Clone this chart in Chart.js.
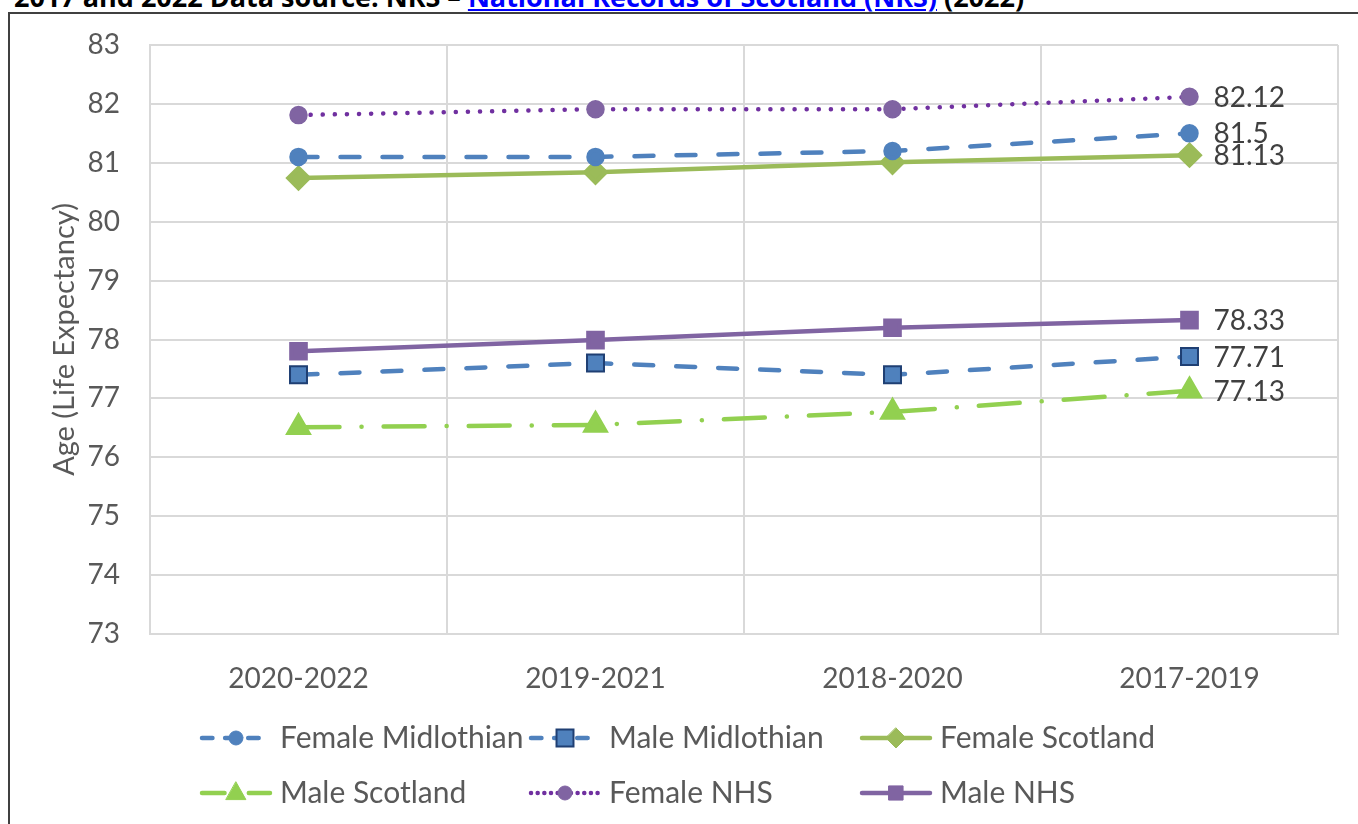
<!DOCTYPE html>
<html lang="en">
  <head>
    <meta charset="UTF-8" />
    <script src="https://cdn.jsdelivr.net/npm/chart.js@4.4.1/dist/chart.umd.min.js"></script>
    <title>Life Expectancy</title>
    <style>
      body { margin: 0; background: #fff; overflow: hidden; }
      #source {
        position: absolute; left: 14px; top: -22px; white-space: nowrap;
        font-family: "Open Sans", sans-serif; font-weight: bold; font-size: 27px; color: #000;
      }
      #source a { color: #0000ff; text-decoration: underline; }
      #frame {
        position: absolute; left: 8px; top: 12px; width: 1360px; height: 830px;
        border: 2px solid #404040; box-sizing: border-box;
      }
      #wrap { position: absolute; left: 9px; top: 14px; width: 1349px; height: 810px; }
    </style>
  </head>
  <body>
    <div id="source">2017 and 2022 Data source: NRS – <a href="#">National Records of Scotland (NRS)</a> (2022)</div>
    <div id="frame"></div>
    <div id="wrap"><canvas id="chart"></canvas></div>
    <script>
      const periods = ["2020-2022", "2019-2021", "2018-2020", "2017-2019"];
      const femaleMidlothian = [81.1, 81.1, 81.2, 81.5];
      const maleMidlothian = [77.4, 77.6, 77.4, 77.71];
      const femaleScotland = [80.74, 80.84, 81.01, 81.13];
      const maleScotland = [76.51, 76.55, 76.77, 77.13];
      const femaleNHS = [81.81, 81.91, 81.91, 82.12];
      const maleNHS = [77.8, 77.99, 78.2, 78.33];
      const yTicks = [73, 74, 75, 76, 77, 78, 79, 80, 81, 82, 83];

      const FONT = "Lato";
      const grey = "#595959";

      const datasets = [
        { label: "Female Midlothian", data: femaleMidlothian, borderColor: "#4F81BD", borderDash: [19, 23],
          pointStyle: "circle", pointRadius: 7, pointBackgroundColor: "#4F81BD", pointBorderColor: "#4F81BD" },
        { label: "Male Midlothian", data: maleMidlothian, borderColor: "#4F81BD", borderDash: [19, 23],
          pointStyle: "rect", pointRadius: 12, pointBackgroundColor: "#4F81BD", pointBorderColor: "#1F3F73", pointBorderWidth: 2 },
        { label: "Female Scotland", data: femaleScotland, borderColor: "#9BBB59", borderDash: [],
          pointStyle: "rectRot", pointRadius: 10, pointBackgroundColor: "#9BBB59", pointBorderColor: "#9BBB59" },
        { label: "Male Scotland", data: maleScotland, borderColor: "#92D050", borderDash: [41, 22, 0.1, 22],
          pointStyle: "triangle", pointRadius: 11, pointBackgroundColor: "#92D050", pointBorderColor: "#92D050" },
        { label: "Female NHS", data: femaleNHS, borderColor: "#7030A0", borderDash: [0.1, 12],
          pointStyle: "circle", pointRadius: 7, pointBackgroundColor: "#8064A2", pointBorderColor: "#8064A2" },
        { label: "Male NHS", data: maleNHS, borderColor: "#8064A2", borderDash: [],
          pointStyle: "rect", pointRadius: 10, pointBackgroundColor: "#8064A2", pointBorderColor: "#8064A2" }
      ];
      datasets.forEach(d => {
        d.borderWidth = 4.5;
        d.borderCapStyle = "round";
        d.tension = 0;
        d.fill = false;
      });

      // value next to the last point of every series
      const endLabels = {
        id: "endLabels",
        afterDatasetsDraw(chart) {
          const ctx = chart.ctx;
          ctx.save();
          ctx.font = "28px " + FONT;
          ctx.fillStyle = "#404040";
          ctx.textBaseline = "middle";
          chart.data.datasets.forEach((ds, i) => {
            const pts = chart.getDatasetMeta(i).data;
            const p = pts[pts.length - 1];
            ctx.fillText(String(ds.data[ds.data.length - 1]), p.x + 24, p.y + 1);
          });
          ctx.restore();
        }
      };

      function drawMarker(ctx, ds, x, y) {
        const r = ds.pointRadius;
        ctx.fillStyle = ds.pointBackgroundColor;
        ctx.strokeStyle = ds.pointBorderColor;
        ctx.lineWidth = ds.pointBorderWidth || 1;
        ctx.setLineDash([]);
        ctx.beginPath();
        if (ds.pointStyle === "circle") {
          ctx.arc(x, y, r, 0, Math.PI * 2);
        } else if (ds.pointStyle === "rect") {
          const s = r * Math.SQRT1_2;
          ctx.rect(x - s, y - s, 2 * s, 2 * s);
        } else if (ds.pointStyle === "rectRot") {
          ctx.moveTo(x, y - r); ctx.lineTo(x + r, y); ctx.lineTo(x, y + r); ctx.lineTo(x - r, y); ctx.closePath();
        } else if (ds.pointStyle === "triangle") {
          ctx.moveTo(x, y - r); ctx.lineTo(x + r * 0.9, y + r * 0.6); ctx.lineTo(x - r * 0.9, y + r * 0.6); ctx.closePath();
        }
        ctx.fill();
        ctx.stroke();
      }

      // Excel-like legend: line sample with marker in the middle
      const lineLegend = {
        id: "lineLegend",
        afterDraw(chart) {
          const ctx = chart.ctx;
          const cols = [193, 522, 853];
          const rows = [724, 779];
          ctx.save();
          chart.data.datasets.forEach((ds, i) => {
            const x = cols[i % 3], y = rows[Math.floor(i / 3)];
            ctx.strokeStyle = ds.borderColor;
            ctx.lineWidth = ds.borderWidth;
            ctx.lineCap = "round";
            ctx.setLineDash(ds.borderDash.length ? ds.borderDash.map(v => v * 0.55) : []);
            ctx.beginPath();
            ctx.moveTo(x, y);
            ctx.lineTo(x + 68, y);
            ctx.stroke();
            drawMarker(ctx, ds, x + 34, y);
            ctx.font = "30px " + FONT;
            ctx.fillStyle = grey;
            ctx.textBaseline = "middle";
            ctx.fillText(ds.label, x + 78, y);
          });
          ctx.restore();
        }
      };

      new Chart(document.getElementById("chart"), {
        type: "line",
        data: { labels: periods, datasets: datasets },
        plugins: [endLabels, lineLegend],
        options: {
          responsive: true,
          maintainAspectRatio: false,
          animation: false,
          layout: { padding: { top: 31, right: 20, left: 0, bottom: 0 } },
          plugins: { legend: { display: false }, tooltip: { enabled: false } },
          scales: {
            x: {
              offset: true,
              grid: { color: "#D9D9D9", lineWidth: 2, offset: true, drawTicks: false },
              border: { color: "#D9D9D9", width: 2 },
              ticks: { color: grey, font: { family: FONT, size: 28 }, padding: 28 },
              afterFit(scale) { scale.height = 190; }
            },
            y: {
              min: 73,
              max: 83,
              afterBuildTicks(scale) { scale.ticks = yTicks.map(v => ({ value: v })); },
              grid: { color: "#D9D9D9", lineWidth: 2, drawTicks: false },
              border: { color: "#D9D9D9", width: 2 },
              ticks: { color: grey, font: { family: FONT, size: 28 }, padding: 30 },
              title: { display: true, text: "Age (Life Expectancy)", color: grey,
                       font: { family: FONT, size: 29 }, padding: { top: 38, bottom: 0 } },
              afterFit(scale) {
                scale.width = 141;
                scale.paddingTop = 0;
                scale.paddingBottom = 0;
              }
            }
          }
        }
      });
    </script>
  </body>
</html>
